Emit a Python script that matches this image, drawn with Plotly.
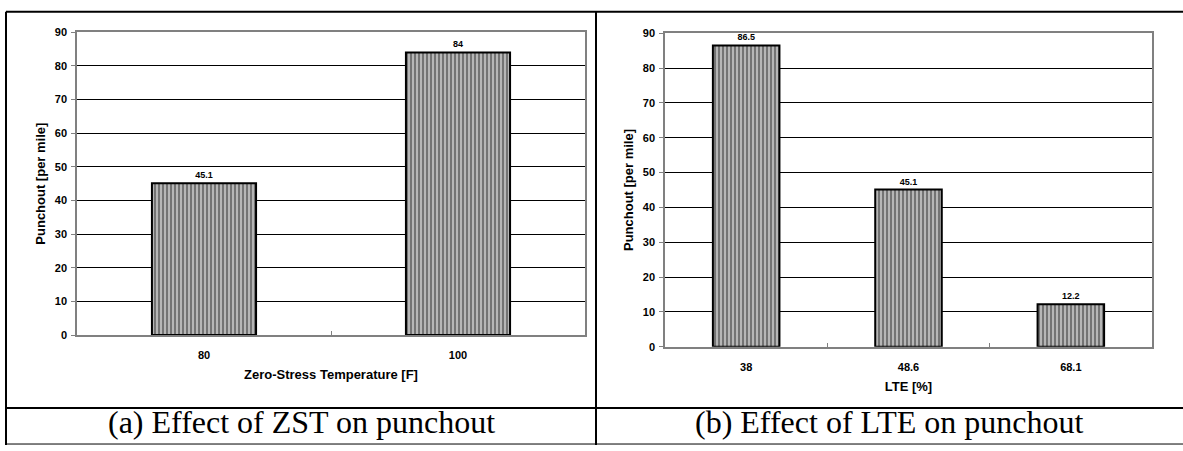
import plotly.graph_objects as go
from plotly.subplots import make_subplots

# Punchout per mile for two design-parameter studies
zst_labels = ["80", "100"]
zst_punchout = [45.1, 84]

lte_labels = ["38", "48.6", "68.1"]
lte_punchout = [86.5, 45.1, 12.2]

y_ticks = [0, 10, 20, 30, 40, 50, 60, 70, 80, 90]

W, H = 1183, 451


def px_x(x):
    return x / W


def px_y(y):
    return 1 - y / H


fig = make_subplots(rows=1, cols=2)

bar_style = dict(
    color="#bbbbbb",
    line=dict(color="black", width=2),
    pattern=dict(shape="|", size=4, solidity=0.55, fgcolor="#2a2a2a", bgcolor="#bdbdbd"),
)
label_font = dict(family="Arial, Liberation Sans", size=9, color="black", weight="bold")

fig.add_trace(
    go.Bar(x=zst_labels, y=zst_punchout, marker=bar_style,
           text=[f"{v:g}" for v in zst_punchout], textposition="outside",
           textfont=label_font, cliponaxis=False, showlegend=False),
    row=1, col=1,
)
fig.add_trace(
    go.Bar(x=lte_labels, y=lte_punchout, marker=bar_style,
           text=[f"{v:g}" for v in lte_punchout], textposition="outside",
           textfont=label_font, cliponaxis=False, showlegend=False),
    row=1, col=2,
)

tick_font = dict(family="Arial, Liberation Sans", size=11, color="black", weight="bold")
title_font = dict(family="Arial, Liberation Sans", size=13, color="black", weight="bold")

common_x = dict(
    type="category", showline=True, linecolor="#808080", linewidth=1.5, mirror=True,
    ticks="inside", tickson="boundaries", ticklen=4, tickcolor="#808080",
    showgrid=False, tickfont=tick_font, ticklabelstandoff=9,
)
common_y = dict(
    range=[0, 90], tickvals=y_ticks, showline=True, linecolor="#808080", linewidth=1.5,
    mirror=True, ticks="outside", ticklen=4, tickcolor="#808080",
    showgrid=True, gridcolor="black", gridwidth=1, zeroline=False, tickfont=tick_font,
    ticklabelstandoff=2,
)

fig.update_xaxes(common_x, row=1, col=1,
                 domain=[px_x(77), px_x(585)],
                 title=dict(text="Zero-Stress Temperature [F]", font=title_font, standoff=10))
fig.update_xaxes(common_x, row=1, col=2,
                 domain=[px_x(665), px_x(1152)],
                 title=dict(text="LTE [%]", font=title_font, standoff=10))
fig.update_yaxes(common_y, row=1, col=1,
                 domain=[px_y(338), px_y(27)],
                 title=dict(text="Punchout [per mile]", font=title_font, standoff=6))
fig.update_yaxes(common_y, row=1, col=2,
                 domain=[px_y(350), px_y(28)],
                 title=dict(text="Punchout [per mile]", font=title_font, standoff=6))

# Table frame around the two panels and their captions
lines = [
    (6, 6, 1183, 6, 2),      # top
    (6, 6, 6, 451, 2),       # left
    (596, 6, 596, 451, 2),   # middle divider
    (6, 413, 1183, 413, 2),  # caption separator
    (6, 450, 1183, 450, 1),  # bottom
]
for x0, y0, x1, y1, w in lines:
    fig.add_shape(type="line", xref="paper", yref="paper",
                  x0=px_x(x0), y0=px_y(y0), x1=px_x(x1), y1=px_y(y1),
                  line=dict(color="black", width=w))

caption_font = dict(family="Liberation Serif, Times New Roman, serif", size=32, color="black")
for text, cx in [("(a) Effect of ZST on punchout", 301), ("(b) Effect of LTE on punchout", 889)]:
    fig.add_annotation(text=text, xref="paper", yref="paper", x=px_x(cx), y=px_y(427),
                       xanchor="center", yanchor="middle", showarrow=False, font=caption_font)

fig.update_layout(
    width=W, height=H, margin=dict(l=0, r=0, t=0, b=0),
    paper_bgcolor="white", plot_bgcolor="white",
    bargap=0.59, showlegend=False,
)

fig.write_html("out.html")
